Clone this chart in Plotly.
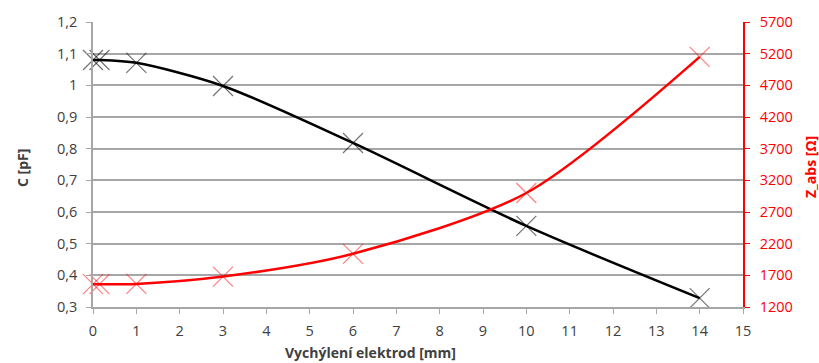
import plotly.graph_objects as go

x_mm = [0, 0.15, 1, 3, 6, 10, 14]
c_pf = [1.08, 1.08, 1.071, 0.998, 0.818, 0.556, 0.328]
z_abs = [1560, 1560, 1565, 1680, 2040, 3000, 5150]

x_ticks = list(range(0, 16))
left_ticks = [0.3, 0.4, 0.5, 0.6, 0.7, 0.8, 0.9, 1.0, 1.1, 1.2]
left_text = ["0,3", "0,4", "0,5", "0,6", "0,7", "0,8", "0,9", "1", "1,1", "1,2"]
right_ticks = [1200, 1700, 2200, 2700, 3200, 3700, 4200, 4700, 5200, 5700]

FONT = "Open Sans"
GRID = "#A6A6A6"
TXT = "#404040"
FS = 14.5

fig = go.Figure()
fig.add_trace(go.Scatter(
    x=x_mm, y=c_pf, mode="lines+markers", line=dict(color="black", width=2.5, shape="spline", smoothing=0.8),
    marker=dict(symbol="x-thin", size=20, line=dict(color="rgba(0,0,0,0.55)", width=1.2)),
    cliponaxis=False, showlegend=False, yaxis="y"))
fig.add_trace(go.Scatter(
    x=x_mm, y=z_abs, mode="lines+markers", line=dict(color="#FF0000", width=2.5, shape="spline", smoothing=0.8),
    marker=dict(symbol="x-thin", size=20, line=dict(color="rgba(255,0,0,0.5)", width=1.2)),
    cliponaxis=False, showlegend=False, yaxis="y2"))

fig.update_layout(
    width=819, height=363,
    margin=dict(l=93, r=76, t=22, b=56),
    paper_bgcolor="white", plot_bgcolor="white",
    font=dict(family=FONT, size=FS, color=TXT),
    xaxis=dict(range=[0, 15], tickvals=x_ticks, showgrid=False, showline=True, linecolor=GRID, linewidth=1.5,
               ticks="outside", ticklen=5, tickcolor=GRID, zeroline=False, ticklabelstandoff=5,
               tickfont=dict(size=FS, color=TXT)),
    yaxis=dict(range=[0.3, 1.2], tickvals=left_ticks, ticktext=left_text, showgrid=True, gridcolor=GRID, gridwidth=1.5,
               showline=True, linecolor=GRID, linewidth=1.5, ticks="outside", ticklen=5, tickcolor=GRID,
               zeroline=False, ticklabelstandoff=6, tickfont=dict(size=FS, color=TXT)),
    yaxis2=dict(range=[1200, 5700], tickvals=right_ticks, overlaying="y", side="right", showgrid=False,
                showline=True, linecolor="#FF0000", linewidth=1.5, ticks="outside", ticklen=5, tickcolor="#FF0000",
                zeroline=False, ticklabelstandoff=7, tickfont=dict(size=FS, color="#FF0000")),
    annotations=[
        dict(text="<b>Vychýlení elektrod [mm]</b>", x=370, y=352, showarrow=False,
             font=dict(size=14, color=TXT)),
        dict(text="<b>C [pF]</b>", textangle=-90, x=22, y=168, showarrow=False, font=dict(size=14, color=TXT)),
        dict(text="<b>Z_abs [Ω]</b>", textangle=-90, x=810, y=167, showarrow=False, font=dict(size=14, color="#FF0000")),
    ],
)
# convert pixel annotation positions to paper coords
pw = 819 - 93 - 76
ph = 363 - 22 - 56
for a in fig.layout.annotations:
    px, py = a.x, a.y
    a.x = (px - 93) / pw
    a.y = (363 - 56 - py) / ph
    a.xref = "paper"
    a.yref = "paper"
    a.xanchor = "center"
    a.yanchor = "middle"

fig.write_html("out.html")
